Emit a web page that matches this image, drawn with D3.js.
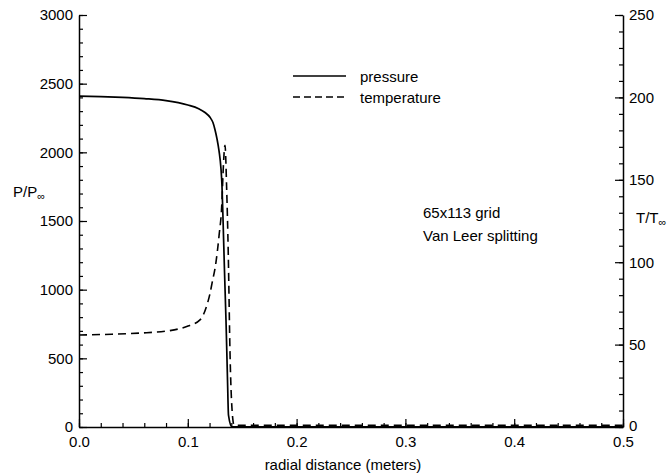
<!DOCTYPE html>
<html>
<head>
<meta charset="utf-8">
<script src="https://cdn.jsdelivr.net/npm/d3@7"></script>
<style>
  html, body { margin: 0; padding: 0; background: #fff; }
  svg { display: block; }
  text { font-family: "Liberation Sans", Arial, Helvetica, sans-serif; fill: #000; }
</style>
</head>
<body>
<svg id="chart" width="669" height="473"></svg>
<script>
// Radial distance (meters) of each sample
const pressureR = [0, 0.02, 0.04, 0.06, 0.08, 0.10, 0.11, 0.1158, 0.1204, 0.1232, 0.1250, 0.1268,
  0.1287, 0.1305, 0.1314, 0.1324, 0.1337, 0.1351, 0.1365, 0.1374, 0.1406, 0.15, 0.5];
// Pressure ratio P/P∞
const pressureVal = [2410, 2406, 2400, 2391, 2377, 2345, 2318, 2290, 2255, 2215, 2165, 2100,
  2010, 1880, 1760, 1507, 1143, 779, 342, 87, 1, 1, 1];

const temperatureR = [0, 0.03, 0.056, 0.0836, 0.099, 0.1112, 0.1149, 0.1176, 0.1204, 0.1222,
  0.1259, 0.1287, 0.1314, 0.1324, 0.1342, 0.1357, 0.1372, 0.1388, 0.1415, 0.1425, 0.15, 0.5];
// Temperature ratio T/T∞
const temperatureVal = [55.8, 56.3, 57, 58.5, 61, 65, 69, 74, 81, 87,
  100, 116, 137, 154, 171, 145, 105, 45, 4, 1.2, 1, 1];

const xTicks = [0, 0.1, 0.2, 0.3, 0.4, 0.5];
const xTickLabels = ["0.0", "0.1", "0.2", "0.3", "0.4", "0.5"];
const pTicks = [0, 500, 1000, 1500, 2000, 2500, 3000];
const tTicks = [0, 50, 100, 150, 200, 250];
const legendLabels = ["pressure", "temperature"];
const noteLines = ["65x113 grid", "Van Leer splitting"];

const svg = d3.select("#chart");
const plotLeft = 79, plotRight = 623, plotTop = 15, plotBottom = 427;
const fontSize = 15;

const x = d3.scaleLinear().domain([0, 0.5]).range([plotLeft, plotRight]);
const yP = d3.scaleLinear().domain([0, 3000]).range([plotBottom, plotTop]);
const yT = d3.scaleLinear().domain([0, 250]).range([plotBottom, plotTop]);

function styleAxis(g) {
  g.selectAll(".domain").attr("stroke", "#000").attr("stroke-width", 1.5);
  g.selectAll(".tick line").attr("stroke", "#000").attr("stroke-width", 1.2);
  g.selectAll(".tick text").style("font-size", fontSize + "px")
    .style("font-family", '"Liberation Sans", Arial, Helvetica, sans-serif').attr("fill", "#000");
}

// bottom axis: minor every 0.02, major every 0.1, ticks pointing inward
svg.append("g").attr("transform", `translate(0,${plotBottom})`)
  .call(d3.axisBottom(x).tickValues(d3.range(0, 0.5001, 0.02)).tickSize(-4).tickFormat("").tickSizeOuter(0))
  .call(g => g.select(".domain").remove())
  .call(styleAxis);
svg.append("g").attr("transform", `translate(0,${plotBottom})`)
  .call(d3.axisBottom(x).tickValues(xTicks).tickSize(-8).tickSizeOuter(0).tickPadding(9)
    .tickFormat((d, i) => xTickLabels[i]))
  .call(styleAxis);

// left axis (pressure)
svg.append("g").attr("transform", `translate(${plotLeft},0)`)
  .call(d3.axisLeft(yP).tickValues(d3.range(0, 3001, 100)).tickSize(-4).tickFormat("").tickSizeOuter(0))
  .call(g => g.select(".domain").remove())
  .call(styleAxis);
svg.append("g").attr("transform", `translate(${plotLeft},0)`)
  .call(d3.axisLeft(yP).tickValues(pTicks).tickSize(-8).tickSizeOuter(0).tickPadding(6)
    .tickFormat(d3.format("d")))
  .call(styleAxis);

// right axis (temperature)
svg.append("g").attr("transform", `translate(${plotRight},0)`)
  .call(d3.axisRight(yT).tickValues(d3.range(0, 251, 10)).tickSize(-4).tickFormat("").tickSizeOuter(0))
  .call(g => g.select(".domain").remove())
  .call(styleAxis);
svg.append("g").attr("transform", `translate(${plotRight},0)`)
  .call(d3.axisRight(yT).tickValues(tTicks).tickSize(-8).tickSizeOuter(0).tickPadding(6)
    .tickFormat(d3.format("d")))
  .call(g => g.selectAll(".tick text").filter(d => d === 0).attr("dy", "0.2em"))
  .call(styleAxis);

// axis titles
svg.append("text").attr("x", 343).attr("y", 470).attr("text-anchor", "middle")
  .style("font-size", fontSize + "px").text("radial distance (meters)");

const pLab = svg.append("text").attr("x", 13).attr("y", 197).style("font-size", fontSize + "px");
pLab.append("tspan").text("P/P");
pLab.append("tspan").attr("dy", 3).style("font-size", "11px").text("\u221E");

const tLab = svg.append("text").attr("x", 636).attr("y", 223).style("font-size", fontSize + "px");
tLab.append("tspan").text("T/T");
tLab.append("tspan").attr("dy", 3).style("font-size", "11px").text("\u221E");

// curves
const pLine = d3.line().curve(d3.curveMonotoneX).x((d, i) => x(pressureR[i])).y(d => yP(d));
const tLine = d3.line().curve(d3.curveMonotoneX).x((d, i) => x(temperatureR[i])).y(d => yT(d));

svg.append("path").datum(temperatureVal).attr("d", tLine)
  .attr("fill", "none").attr("stroke", "#000").attr("stroke-width", 1.6)
  .attr("stroke-dasharray", "8,5");
svg.append("path").datum(pressureVal).attr("d", pLine)
  .attr("fill", "none").attr("stroke", "#000").attr("stroke-width", 1.7);

// legend
const legend = svg.append("g");
legendLabels.forEach((lab, i) => {
  const ly = 76 + i * 21;
  legend.append("line").attr("x1", 293).attr("x2", 346).attr("y1", ly).attr("y2", ly)
    .attr("stroke", "#000").attr("stroke-width", 1.6)
    .attr("stroke-dasharray", i === 0 ? null : "7,4");
  legend.append("text").attr("x", 360).attr("y", ly + 2).attr("dominant-baseline", "middle")
    .style("font-size", fontSize + "px").text(lab);
});

// run annotation
noteLines.forEach((t, i) => {
  svg.append("text").attr("x", 423).attr("y", 218 + i * 23)
    .style("font-size", fontSize + "px").text(t);
});
</script>
</body>
</html>
